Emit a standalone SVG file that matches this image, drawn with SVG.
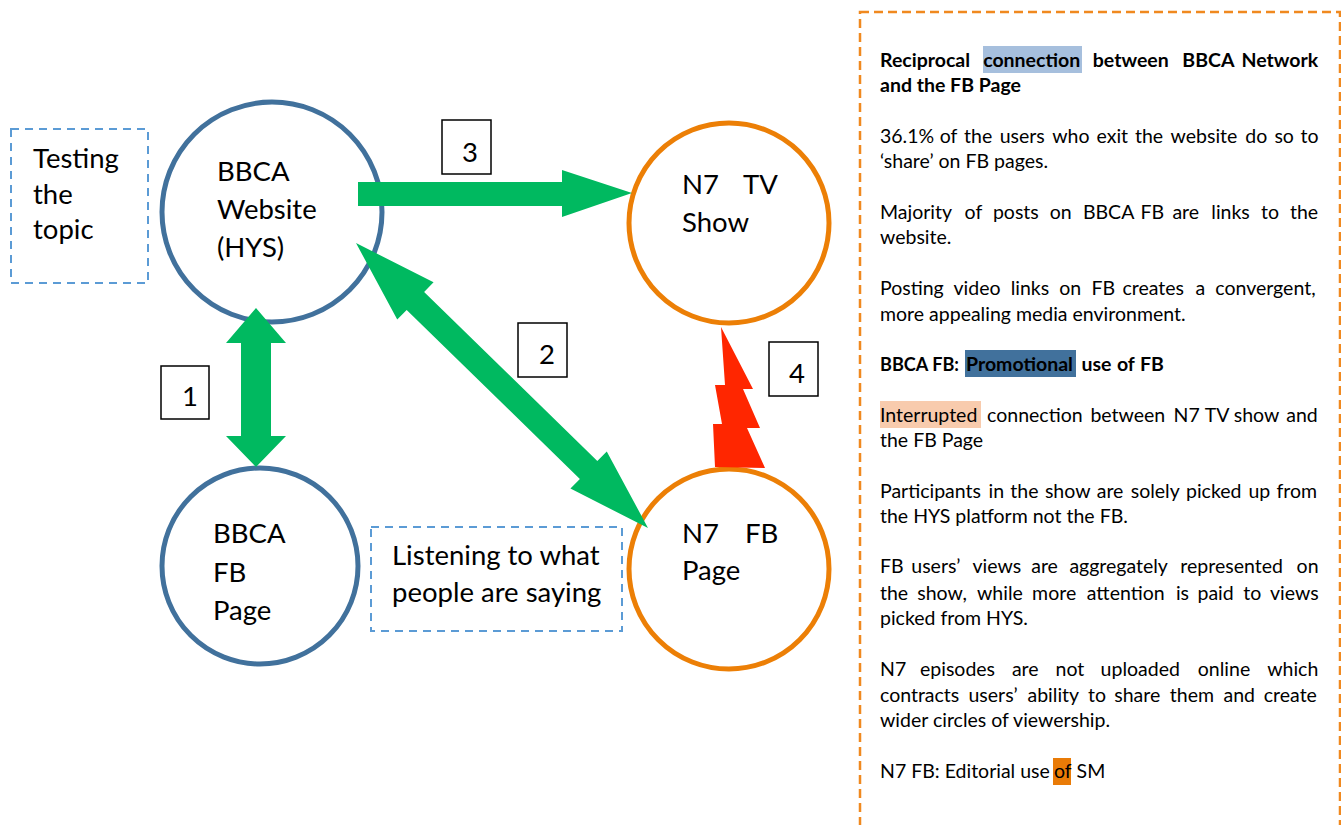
<svg xmlns="http://www.w3.org/2000/svg" width="1341" height="825" viewBox="0 0 1341 825">
<style>
  .nodeBlue { fill: #ffffff; stroke: #41719c; stroke-width: 5; }
  .nodeOrange { fill: #ffffff; stroke: #ec7f06; stroke-width: 5; }
  .note { fill: #ffffff; stroke: #5b9bd5; stroke-width: 2; stroke-dasharray: 8 6; }
  .num { fill: #ffffff; stroke: #000000; stroke-width: 1.5; }
  .big { font-family: Lato, "Liberation Sans", sans-serif; font-size: 27.5px; fill: #000000; }
  .p { font-family: Lato, "Liberation Sans", sans-serif; font-size: 19.5px; fill: #000000; }
  .b { font-weight: bold; }
  .arrow { fill: #00b960; }
  .bolt { fill: #ff2600; }
</style>
<rect width="1341" height="825" fill="#ffffff"/>

<g id="note-testing">
  <rect class="note" x="11" y="129" width="137" height="154"/>
  <text class="big" x="33" y="168">Testing</text>
  <text class="big" x="33" y="204">the</text>
  <text class="big" x="33" y="239">topic</text>
</g>

<g id="node-bbca-website">
  <circle class="nodeBlue" cx="272" cy="212" r="110"/>
  <text class="big" x="217" y="181">BBCA</text>
  <text class="big" x="217" y="219">Website</text>
  <text class="big" x="217" y="257">(HYS)</text>
</g>

<g id="node-bbca-fb">
  <circle class="nodeBlue" cx="260" cy="566" r="98"/>
  <text class="big" x="213" y="543">BBCA</text>
  <text class="big" x="213" y="582">FB</text>
  <text class="big" x="213" y="620">Page</text>
</g>

<g id="node-n7-tv">
  <circle class="nodeOrange" cx="729" cy="223" r="100"/>
  <text class="big" y="194"><tspan x="682">N7</tspan><tspan x="743">TV</tspan></text>
  <text class="big" x="682" y="232">Show</text>
</g>

<g id="node-n7-fb">
  <circle class="nodeOrange" cx="729" cy="569" r="100"/>
  <text class="big" y="543"><tspan x="682">N7</tspan><tspan x="745">FB</tspan></text>
  <text class="big" x="682" y="580">Page</text>
</g>

<g id="note-listening">
  <rect class="note" x="371" y="527" width="251" height="104"/>
  <text class="big" x="392" y="565">Listening to what</text>
  <text class="big" x="392" y="602">people are saying</text>
</g>

<g id="connectors">
  <polygon class="arrow" points="256,308 286,343 271,343 271,436 286,436 256,467 226,436 241,436 241,343 226,343"/>
  <polygon class="arrow" transform="translate(356,243) rotate(44.3)" points="0,0 83,-26 83,-12.5 325,-12.5 325,-26 408,0 325,26 325,12.5 83,12.5 83,26"/>
  <polygon class="arrow" points="358,182 562,182 562,170 632,193 562,217 562,206 358,206"/>
  <polygon class="bolt" points="721,327 753,389 743,389 760,428 747,428 765,468 715,467 713,424 722,424 715,385 725,385"/>
</g>

<g id="label-1">
  <rect class="num" x="161" y="366" width="48" height="53"/>
  <text class="big" x="182" y="406">1</text>
</g>
<g id="label-2">
  <rect class="num" x="518" y="323" width="49" height="54"/>
  <text class="big" x="539" y="364">2</text>
</g>
<g id="label-3">
  <rect class="num" x="442" y="120" width="49" height="54"/>
  <text class="big" x="462" y="162">3</text>
</g>
<g id="label-4">
  <rect class="num" x="769" y="342" width="49" height="54"/>
  <text class="big" x="789" y="383">4</text>
</g>

<g id="panel">
  <rect x="860" y="12" width="480" height="830" fill="none" stroke="#f0891f" stroke-width="2.5" stroke-dasharray="9 5"/>
  <rect x="983" y="46" width="99" height="27" fill="#a6bfdd"/>
  <rect x="965" y="350" width="111" height="27" fill="#41719c"/>
  <rect x="880" y="401" width="101" height="27" fill="#f8cbad"/>
  <rect x="1053" y="758" width="18" height="27" fill="#e97b07"/>

  <text class="p b" y="67"><tspan x="880">Reciprocal</tspan><tspan x="983.2">connection</tspan><tspan x="1092.8">between</tspan><tspan x="1182.3">BBCA</tspan><tspan x="1241.5">Network</tspan></text>
  <text class="p b" x="880" y="92">and the FB Page</text>

  <text class="p" y="143"><tspan x="880">36.1%</tspan><tspan x="939.7">of</tspan><tspan x="964.1">the</tspan><tspan x="999.7">users</tspan><tspan x="1052.2">who</tspan><tspan x="1096.5">exit</tspan><tspan x="1135">the</tspan><tspan x="1170.6">website</tspan><tspan x="1245.3">do</tspan><tspan x="1274.4">so</tspan><tspan x="1300.6">to</tspan></text>
  <text class="p" x="880" y="168">‘share’ on FB pages.</text>

  <text class="p" y="219"><tspan x="880">Majority</tspan><tspan x="964.6">of</tspan><tspan x="992.9">posts</tspan><tspan x="1049.8">on</tspan><tspan x="1082.9">BBCA</tspan><tspan x="1140.4">FB</tspan><tspan x="1172.4">are</tspan><tspan x="1211.3">links</tspan><tspan x="1261">to</tspan><tspan x="1290">the</tspan></text>
  <text class="p" x="880" y="244">website.</text>

  <text class="p" y="295"><tspan x="880">Posting</tspan><tspan x="953.5">video</tspan><tspan x="1010.7">links</tspan><tspan x="1059.3">on</tspan><tspan x="1091.4">FB</tspan><tspan x="1122.4">creates</tspan><tspan x="1195.4">a</tspan><tspan x="1215.3">convergent,</tspan></text>
  <text class="p" x="880" y="321">more appealing media environment.</text>

  <text class="p b" y="371"><tspan x="880" textLength="79" lengthAdjust="spacingAndGlyphs">BBCA FB:</tspan><tspan x="966">Promotional</tspan><tspan x="1081.4">use</tspan><tspan x="1116.9">of</tspan><tspan x="1139.9">FB</tspan></text>

  <text class="p" y="422"><tspan x="880">Interrupted</tspan><tspan x="987.1">connection</tspan><tspan x="1090.4">between</tspan><tspan x="1173.6">N7</tspan><tspan x="1204.7">TV</tspan><tspan x="1233.7">show</tspan><tspan x="1286.2">and</tspan></text>
  <text class="p" x="880" y="447">the FB Page</text>

  <text class="p" y="498"><tspan x="880">Participants</tspan><tspan x="988.5">in</tspan><tspan x="1010.3">the</tspan><tspan x="1044.9">show</tspan><tspan x="1096.7">are</tspan><tspan x="1130.7">solely</tspan><tspan x="1186">picked</tspan><tspan x="1248.4">up</tspan><tspan x="1276.5">from</tspan></text>
  <text class="p" x="880" y="523">the HYS platform not the FB.</text>

  <text class="p" y="573"><tspan x="880">FB</tspan><tspan x="911.3">users’</tspan><tspan x="972.5">views</tspan><tspan x="1031.2">are</tspan><tspan x="1069.4">aggregately</tspan><tspan x="1180.3">represented</tspan><tspan x="1296.6">on</tspan></text>
  <text class="p" y="600"><tspan x="880">the</tspan><tspan x="917.3">show,</tspan><tspan x="977">while</tspan><tspan x="1032.1">more</tspan><tspan x="1086.8">attention</tspan><tspan x="1175.9">is</tspan><tspan x="1197.5">paid</tspan><tspan x="1243.3">to</tspan><tspan x="1270">views</tspan></text>
  <text class="p" x="880" y="625">picked from HYS.</text>

  <text class="p" y="676"><tspan x="880">N7</tspan><tspan x="920">episodes</tspan><tspan x="1011.9">are</tspan><tspan x="1055.6">not</tspan><tspan x="1100.6">uploaded</tspan><tspan x="1197.8">online</tspan><tspan x="1267.2">which</tspan></text>
  <text class="p" y="702"><tspan x="880">contracts</tspan><tspan x="968.5">users’</tspan><tspan x="1027.5">ability</tspan><tspan x="1088.1">to</tspan><tspan x="1114.2">share</tspan><tspan x="1169.8">them</tspan><tspan x="1223.5">and</tspan><tspan x="1263.8">create</tspan></text>
  <text class="p" x="880" y="727">wider circles of viewership.</text>

  <text class="p" y="778"><tspan x="880">N7 FB: Editorial use</tspan><tspan x="1054">of</tspan><tspan x="1076.6">SM</tspan></text>
</g>
</svg>
